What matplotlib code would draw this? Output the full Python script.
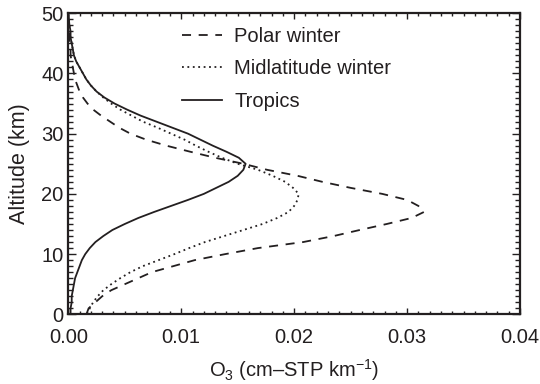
import numpy as np
import matplotlib
matplotlib.use("Agg")
import matplotlib.pyplot as plt
from matplotlib.ticker import MultipleLocator

# --- Data ---
altitude_km = list(range(0, 51))

polar_winter = [
    0.0016, 0.0018, 0.0024, 0.0030, 0.0038, 0.0050, 0.0062, 0.0074, 0.0093, 0.0112,
    0.0139, 0.0168, 0.0208, 0.0235, 0.0258, 0.0282, 0.0304, 0.0315, 0.0310, 0.0300,
    0.0278, 0.0250, 0.0225, 0.0203, 0.0176, 0.0155, 0.0130, 0.0108, 0.0087, 0.0069,
    0.0055, 0.0045, 0.0037, 0.0029, 0.0022, 0.0017, 0.0013, 0.0010, 0.0008, 0.0006,
    0.0005, 0.0004, 0.0003, 0.0002, 0.0002, 0.0001, 0.0001, 0.0001, 0.00005, 0.0, 0.0,
]

midlatitude_winter = [
    0.0017, 0.0019, 0.0022, 0.0026, 0.0031, 0.0038, 0.0046, 0.0055, 0.0066, 0.0080,
    0.0094, 0.0107, 0.0121, 0.0138, 0.0155, 0.0172, 0.0185, 0.0195, 0.0200, 0.0203,
    0.0204, 0.0199, 0.0192, 0.0181, 0.0168, 0.0150, 0.0136, 0.0124, 0.0113, 0.0103,
    0.0091, 0.0079, 0.0066, 0.0056, 0.0046, 0.0038, 0.0031, 0.0025, 0.0020, 0.0016,
    0.0013, 0.0010, 0.0007, 0.0005, 0.0004, 0.0003, 0.0002, 0.0001, 0.0001, 0.00005, 0.0,
]

tropics = [
    0.0002, 0.0002, 0.0003, 0.0003, 0.0004, 0.0005, 0.0006, 0.0008, 0.0010, 0.0012,
    0.0015, 0.0019, 0.0024, 0.0031, 0.0039, 0.0050, 0.0062, 0.0076, 0.0091, 0.0106,
    0.0120, 0.0131, 0.0142, 0.0150, 0.0155, 0.0157, 0.0151, 0.0140, 0.0128, 0.0117,
    0.0106, 0.0092, 0.0078, 0.0064, 0.0052, 0.0041, 0.0032, 0.0025, 0.0020, 0.0016,
    0.0013, 0.0010, 0.0007, 0.0005, 0.0004, 0.0003, 0.0002, 0.0002, 0.0001, 0.00005, 0.0,
]

x_ticks = [0.00, 0.01, 0.02, 0.03, 0.04]
y_ticks = [0, 10, 20, 30, 40, 50]

# --- Style ---
ink = '#231f20'
plt.rcParams['font.family'] = ['Liberation Sans', 'DejaVu Sans']
plt.rcParams['mathtext.fontset'] = 'custom'
plt.rcParams['mathtext.rm'] = 'Liberation Sans'
plt.rcParams['mathtext.it'] = 'Liberation Sans:italic'
plt.rcParams['lines.scale_dashes'] = False
plt.rcParams['font.size'] = 14.5

fig = plt.figure(figsize=(5.4, 3.84), dpi=100)
ax = fig.add_axes([0.1265, 0.1815, 0.8365, 0.784])

ax.plot(polar_winter, altitude_km, color=ink, lw=1.3, dashes=(6.5, 5.5), label='Polar winter')
ax.plot(midlatitude_winter, altitude_km, color=ink, lw=1.3, dashes=(1.3, 2.6), label='Midlatitude winter')
ax.plot(tropics, altitude_km, color=ink, lw=1.3, label='Tropics')

ax.set_xlim(0, 0.04)
ax.set_ylim(0, 50)
ax.set_xticks(x_ticks)
ax.set_yticks(y_ticks)
ax.set_xticklabels([f'{v:.2f}' for v in x_ticks])
ax.xaxis.set_minor_locator(MultipleLocator(0.001))
ax.yaxis.set_minor_locator(MultipleLocator(1))

for s in ax.spines.values():
    s.set_linewidth(1.6)
    s.set_color(ink)

ax.tick_params(axis='both', which='both', direction='in', top=True, right=True,
               color=ink, labelcolor=ink, width=1.0)
ax.tick_params(axis='x', which='major', length=4, pad=10)
ax.tick_params(axis='x', which='minor', length=2.3)
ax.tick_params(axis='y', which='major', length=6, pad=3.5)
ax.tick_params(axis='y', which='minor', length=3.5)

ax.set_xlabel(r'O$_3$ (cm–STP km$^{-1}$)', color=ink, labelpad=7)
ax.set_ylabel('Altitude (km)', color=ink, labelpad=8, fontsize=15.5)

leg = ax.legend(loc='upper left', bbox_to_anchor=(0.251, 0.955), frameon=False,
                borderpad=0, borderaxespad=0, handlelength=2.0, handletextpad=0.6,
                labelspacing=0.68, fontsize=14.5)
for t in leg.get_texts():
    t.set_color(ink)

fig.savefig('out.png', dpi=100)
